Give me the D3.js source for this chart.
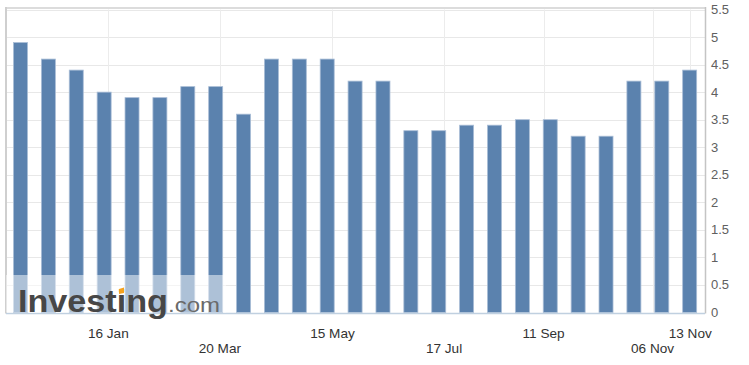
<!DOCTYPE html>
<html>
<head>
<meta charset="utf-8">
<script src="https://cdn.jsdelivr.net/npm/d3@7"></script>
<style>
  html, body { margin: 0; padding: 0; background: #fff; }
  svg { display: block; font-family: "Liberation Sans", Arial, sans-serif; }
</style>
</head>
<body>
<svg id="chart" width="749" height="365"></svg>
<script>
// ---- data ----
const categories = d3.range(1, 26).map(i => "P" + i);
const values = [4.9, 4.6, 4.4, 4.0, 3.9, 3.9, 4.1, 4.1, 3.6,
                4.6, 4.6, 4.6, 4.2, 4.2, 3.3, 3.3, 3.4, 3.4, 3.5, 3.5, 3.2, 3.2,
                4.2, 4.2, 4.4];
const tickLabels = ["16 Jan", "20 Mar", "15 May", "17 Jul", "11 Sep", "06 Nov", "13 Nov"];
const tickIndex  = [3.15, 7.15, 11.19, 15.19, 18.76, 22.67, 24.02];
const tickRow    = [0, 1, 0, 1, 0, 1, 0];
const yTicks = [0, 0.5, 1, 1.5, 2, 2.5, 3, 3.5, 4, 4.5, 5, 5.5];

(function () {
// ---- layout ----
const svg = d3.select("#chart");
const pl = 6, pr = 705, pt = 9.5, pb = 312.5;

const x = d3.scaleLinear().domain([-0.52, values.length - 1 + 0.55]).range([pl, pr]);
const y = d3.scaleLinear().domain([0, 5.5]).range([pb, pt]);
const barW = 14;

// horizontal grid
svg.append("g")
  .selectAll("line").data(yTicks).join("line")
  .attr("x1", pl).attr("x2", pr)
  .attr("y1", d => Math.round(y(d)) + 0.5).attr("y2", d => Math.round(y(d)) + 0.5)
  .attr("stroke", "#e8e8e8").attr("stroke-width", 1);

// vertical grid
svg.append("g")
  .selectAll("line").data(tickIndex).join("line")
  .attr("x1", d => Math.round(x(d)) + 0.5).attr("x2", d => Math.round(x(d)) + 0.5)
  .attr("y1", pt).attr("y2", pb)
  .attr("stroke", "#ececec").attr("stroke-width", 1);

// frame
svg.append("line").attr("x1", pl).attr("x2", pr).attr("y1", 8).attr("y2", 8)
  .attr("stroke", "#dcdcdc").attr("stroke-width", 2);
svg.append("line").attr("x1", pl).attr("x2", pl).attr("y1", 7).attr("y2", pb + 1)
  .attr("stroke", "#cfcfcf").attr("stroke-width", 2);
svg.append("line").attr("x1", pr + 0.5).attr("x2", pr + 0.5).attr("y1", 7).attr("y2", pb + 1)
  .attr("stroke", "#c4c4c4").attr("stroke-width", 1.5);

// bars
svg.append("g")
  .selectAll("rect").data(values).join("rect")
  .attr("x", (d, i) => x(i) - barW / 2)
  .attr("y", d => y(d))
  .attr("width", barW)
  .attr("height", d => y(0) - y(d))
  .attr("fill", "#5b82ae")
  .attr("stroke", "#a9bdd6")
  .attr("stroke-width", 0.8);

// x axis line
svg.append("line").attr("x1", pl).attr("x2", pr).attr("y1", pb + 1).attr("y2", pb + 1)
  .attr("stroke", "#c0d0e0").attr("stroke-width", 1.5);

// y labels (right)
svg.append("g")
  .selectAll("text").data(yTicks).join("text")
  .attr("x", 711).attr("y", d => y(d) + 4.5)
  .attr("font-size", 13).attr("fill", "#606060")
  .text(d => d3.format("")(d));

// x labels
svg.append("g")
  .selectAll("text").data(tickLabels).join("text")
  .attr("x", (d, i) => x(tickIndex[i]))
  .attr("y", (d, i) => tickRow[i] ? 353 : 338)
  .attr("text-anchor", "middle")
  .attr("font-size", 13.6).attr("fill", "#333")
  .text(d => d);

// watermark
const wm = svg.append("g");
wm.append("rect").attr("x", pl).attr("y", 275).attr("width", 220).attr("height", pb - 275)
  .attr("fill", "#fff").attr("opacity", 0.5);
wm.append("text").attr("x", 18).attr("y", 311.5)
  .attr("font-size", 31).attr("font-weight", "bold").attr("fill", "#474747")
  .attr("textLength", 150).attr("lengthAdjust", "spacingAndGlyphs")
  .text("Investing");
wm.append("text").attr("x", 168).attr("y", 311.5)
  .attr("font-size", 21).attr("fill", "#6a6a6a")
  .attr("textLength", 52).attr("lengthAdjust", "spacingAndGlyphs")
  .text(".com");
wm.append("path").attr("d", "M119,289 L124,287.5 L124,293 L119,294 Z").attr("fill", "#f5a21e");
})();
</script>
</body>
</html>
